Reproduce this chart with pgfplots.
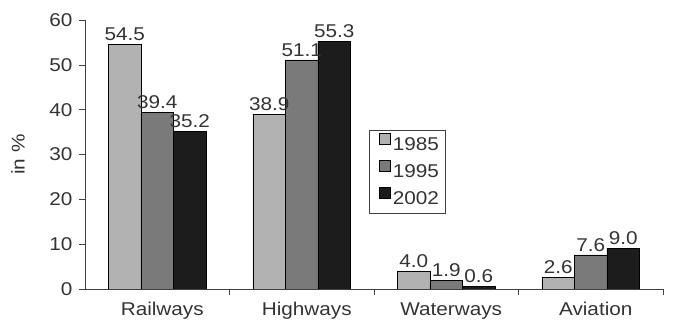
\documentclass[border=0pt]{standalone}
\usepackage{pgfplots}
\pgfplotsset{compat=1.18}
\usepackage{fontspec}
\setmainfont{Liberation Sans}[FakeStretch=1.12]
\definecolor{c85}{HTML}{B2B2B2}
\definecolor{c95}{HTML}{7A7A7A}
\definecolor{c02}{HTML}{1C1C1C}
\definecolor{txt}{HTML}{333333}
\newcommand\chartfont{\fontsize{18.5}{21}\selectfont}
\begin{document}
\begin{tikzpicture}
\begin{axis}[
  scale only axis,
  width=578pt, height=269pt,
  ybar=0pt, bar width=32.5pt,
  xmin=0, xmax=4, ymin=0, ymax=60,
  axis lines=left, axis line style={-, draw=black!75, line width=0.8pt},
  xtick={0.5,1.5,2.5,3.5},
  xticklabels={Railways,Highways,Waterways,Aviation},
  major x tick style={draw=none},
  minor xtick={1,2,3,4},
  minor tick length=6pt,
  ytick={0,10,...,60},
  major tick length=6pt,
  tick style={black!75, line width=0.6pt},
  tick align=outside,
  ylabel={in \%},
  ylabel style={at={(axis description cs:0,0.5)}, anchor=center, yshift=67pt, font=\chartfont, text=txt},
  ticklabel style={font=\chartfont, text=txt},
  xticklabel style={yshift=-4pt, xshift=5pt},
  yticklabel style={xshift=-3pt},
  /pgf/number format/assume math mode=true,
  nodes near coords,
  nodes near coords style={font=\chartfont, text=txt, /pgf/number format/.cd, fixed, precision=1, zerofill},
  every axis plot/.append style={draw=black, line width=0.6pt},
  legend style={at={(0.491,0.591)}, anchor=north west, draw=black!75, line width=0.8pt, font=\chartfont, text=txt,
    inner xsep=5pt, inner ysep=1pt,
    nodes={inner xsep=2pt, inner ysep=5pt, text depth=3pt, text height=14pt}},
  legend image code/.code={\path (0pt,0pt); \draw[#1, line width=0.6pt] (5pt,1pt) rectangle (16pt,12pt);},
  legend cell align=left,
]
\addplot[fill=c85] coordinates {(0.5,54.5) (1.5,38.9) (2.5,4.0) (3.5,2.6)};
\addplot[fill=c95] coordinates {(0.5,39.4) (1.5,51.1) (2.5,1.9) (3.5,7.6)};
\addplot[fill=c02] coordinates {(0.5,35.2) (1.5,55.3) (2.5,0.6) (3.5,9.0)};
\legend{1985,1995,2002}
\coordinate (O) at (rel axis cs:0,0);
\end{axis}
\pgfresetboundingbox
\path (O) ++(-85pt,-35pt) coordinate (bbA);
\path (O) ++(588pt,289pt) coordinate (bbB);
\useasboundingbox (bbA) rectangle (bbB);
\end{tikzpicture}
\end{document}
